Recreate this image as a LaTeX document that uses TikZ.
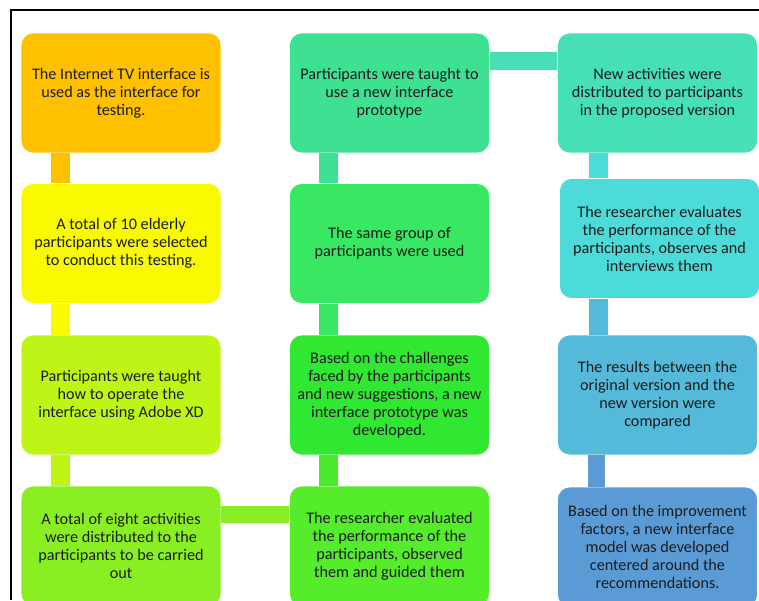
\documentclass[tikz,border=0pt]{standalone}
\usepackage{fontspec}
\setmainfont{Carlito}
\begin{document}
\definecolor{cOrange}{HTML}{FFC000}
\definecolor{cYellow}{HTML}{F9F900}
\definecolor{cLime}{HTML}{BFF516}
\definecolor{cLeaf}{HTML}{8AEF22}
\definecolor{cGreenA}{HTML}{55EC2B}
\definecolor{cGreenB}{HTML}{30E832}
\definecolor{cGreenC}{HTML}{38E862}
\definecolor{cMint}{HTML}{3EE092}
\definecolor{cTeal}{HTML}{46DFB6}
\definecolor{cCyan}{HTML}{4DDBD9}
\definecolor{cSky}{HTML}{55B9D9}
\definecolor{cBlue}{HTML}{5B9BD5}
\definecolor{txt}{HTML}{1C1C1C}
\begin{tikzpicture}[x=1pt,y=-1pt,
  card/.style={rounded corners=12pt, draw=white, line width=0.8pt,
    minimum width=200pt, minimum height=120pt, inner sep=0pt,
    align=center, text=txt, font=\fontsize{16.2}{18}\selectfont},
  bar/.style={line width=19pt}]
\useasboundingbox (0,0) rectangle (759,600);
\clip (0,0) rectangle (759,600);
\fill[white] (0,0) rectangle (759,600);
% outer frame, open towards the right and bottom
\draw[line width=2pt, black] (11,600) -- (11,10) -- (770,10);

% first column
\node[card, fill=cOrange] (a1) at (121,93) {The Internet TV interface is\\used as the interface for\\testing.};
\node[card, fill=cYellow] (a2) at (121,243.5) {A total of 10 elderly\\participants were selected\\to conduct this testing.};
\node[card, fill=cLime] (a3) at (121,395) {Participants were taught\\how to operate the\\interface using Adobe XD};
\node[card, fill=cLeaf] (a4) at (121,546) {A total of eight activities\\were distributed to the\\participants to be carried\\out};

% second column
\node[card, fill=cMint] (b1) at (389.5,93) {Participants were taught to\\use a new interface\\prototype};
\node[card, fill=cGreenC] (b2) at (389.5,243.5) {The same group of\\participants were used};
\node[card, fill=cGreenB] (b3) at (389.5,395) {Based on the challenges\\faced by the participants\\and new suggestions, a new\\interface prototype was\\developed.};
\node[card, fill=cGreenA] (b4) at (389.5,546) {The researcher evaluated\\the performance of the\\participants, observed\\them and guided them};

% third column
\node[card, fill=cTeal] (c1) at (657.5,93) {New activities were\\distributed to participants\\in the proposed version};
\node[card, fill=cCyan] (c2) at (659.5,238.5) {The researcher evaluates\\the performance of the\\participants, observes and\\interviews them};
\node[card, fill=cSky] (c3) at (657.5,395) {The results between the\\original version and the\\new version were\\compared};
\node[card, fill=cBlue] (c4) at (657.5,547) {Based on the improvement\\factors, a new interface\\model was developed\\centered around the\\recommendations.};

% vertical links
\draw[bar, cOrange] ([xshift=-60.5pt]a1.south) -- ([xshift=-60.5pt]a2.north);
\draw[bar, cYellow] ([xshift=-60.5pt]a2.south) -- ([xshift=-60.5pt]a3.north);
\draw[bar, cLime] ([xshift=-60.5pt]a3.south) -- ([xshift=-60.5pt]a4.north);
\draw[bar, cMint] ([xshift=-61pt]b1.south) -- ([xshift=-61pt]b2.north);
\draw[bar, cGreenC] ([xshift=-61pt]b2.south) -- ([xshift=-61pt]b3.north);
\draw[bar, cGreenA!70!cGreenB] ([xshift=-61pt]b3.south) -- ([xshift=-61pt]b4.north);
\draw[bar, cCyan] ([xshift=-59pt]c1.south) -- ([xshift=-61pt]c2.north);
\draw[bar, cSky] ([xshift=-61pt]c2.south) -- ([xshift=-59pt]c3.north);
\draw[bar, line width=17pt, cBlue] ([xshift=-61pt]c3.south) -- ([xshift=-61pt]c4.north);

% horizontal links
\draw[bar, line width=18pt, cTeal] ([yshift=32pt]b1.east) -- ([yshift=32pt]c1.west);
\draw[bar, line width=17pt, cLeaf] ([yshift=31.5pt]a4.east) -- ([yshift=31.5pt]b4.west);
\end{tikzpicture}
\end{document}
